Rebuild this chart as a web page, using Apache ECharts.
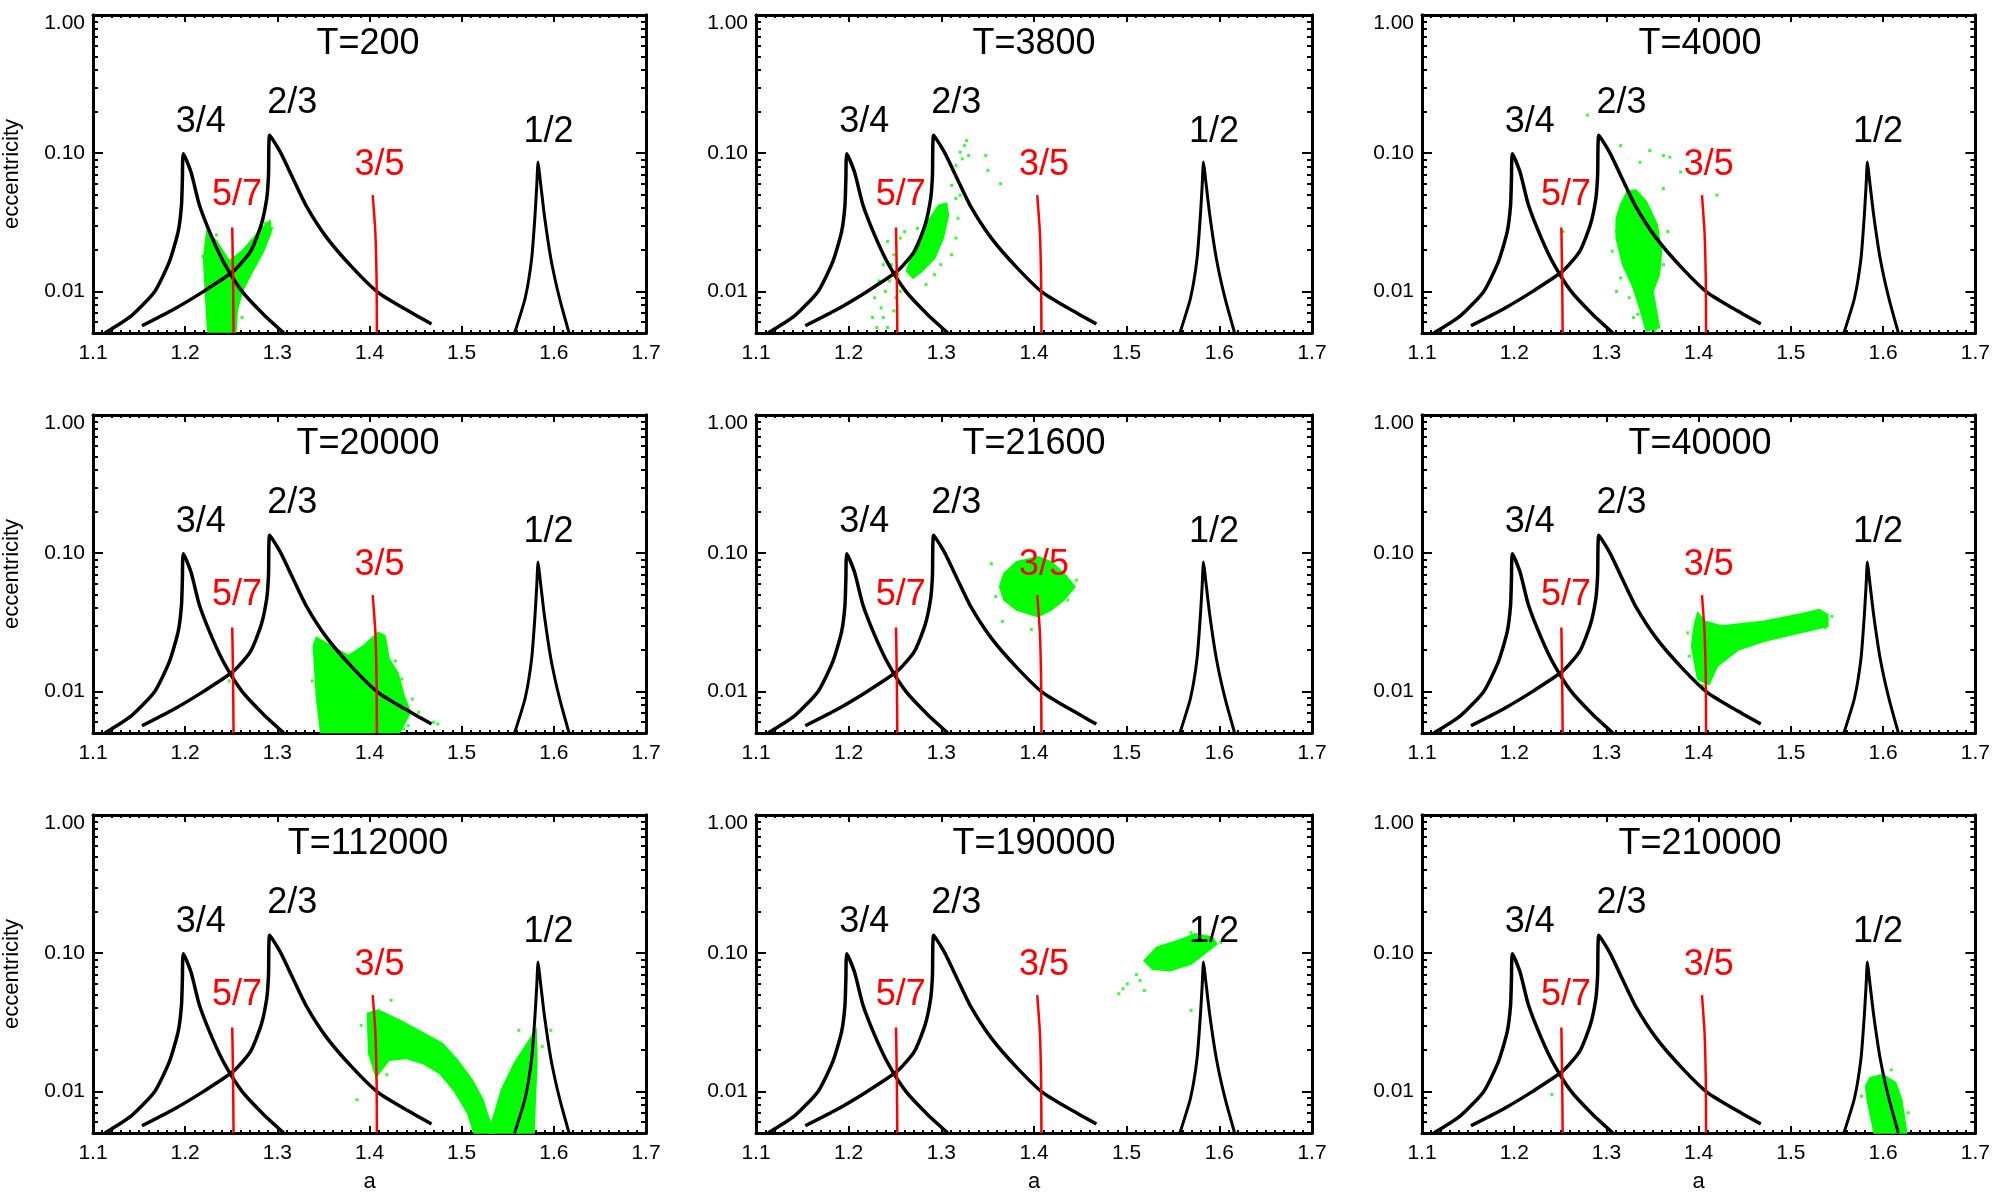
<!DOCTYPE html>
<html>
<head>
<meta charset="UTF-8">
<title>resonance panels</title>
<script src="https://cdn.jsdelivr.net/npm/echarts@6/dist/echarts.min.js"></script>
<style>
    html, body { margin: 0; padding: 0; background: #fff; }
    #chart { width: 1993px; height: 1197px; }
</style>
</head>
<body>
<div id="chart"></div>
<script>
// panel titles, row by row
var times = ['T=200', 'T=3800', 'T=4000', 'T=20000', 'T=21600', 'T=40000', 'T=112000', 'T=190000', 'T=210000'];

// y ticks (log axis)
var yMajor = [0.01, 0.1, 1];
var yMinor = [0.006, 0.007, 0.008, 0.009, 0.02, 0.03, 0.04, 0.05, 0.06, 0.07, 0.08, 0.09,
              0.2, 0.3, 0.4, 0.5, 0.6, 0.7, 0.8, 0.9];

// resonance borders [a, e]
var curve34 = [[1.113, 0.005], [1.1416, 0.00665], [1.167, 0.01], [1.183, 0.0165], [1.1924, 0.0271],
               [1.196, 0.042], [1.197, 0.0654], [1.198, 0.099], [1.2063, 0.073], [1.2155, 0.042],
               [1.2294, 0.0243], [1.2432, 0.0156], [1.2617, 0.01], [1.2848, 0.00684], [1.307, 0.005]];
var curve23 = [[1.1531, 0.00564], [1.1878, 0.00743], [1.22, 0.01], [1.2525, 0.014], [1.271, 0.0195],
               [1.2825, 0.0303], [1.2885, 0.047], [1.2904, 0.069], [1.2917, 0.135], [1.3033, 0.1017],
               [1.3171, 0.0654], [1.331, 0.042], [1.354, 0.0243], [1.3818, 0.0148], [1.4095, 0.0098],
               [1.4419, 0.00723], [1.4673, 0.0058]];
var curve12 = [[1.5574, 0.005], [1.569, 0.009], [1.576, 0.0174], [1.5796, 0.0357], [1.5815, 0.0586],
               [1.5829, 0.0862], [1.5851, 0.065], [1.5897, 0.0357], [1.5967, 0.0174], [1.606, 0.009],
               [1.6165, 0.005]];
var line57 = [[1.2511, 0.029], [1.252, 0.0119], [1.2525, 0.005]];
var line35 = [[1.4035, 0.0497], [1.4063, 0.027], [1.4077, 0.0119], [1.408, 0.005]];

// resonance names and where they sit
var blackNames = ['3/4', '2/3', '1/2'];
var blackPos = [[1.2169, 0.167], [1.3162, 0.23], [1.5943, 0.143]];
var redNames = ['5/7', '3/5'];
var redPos = [[1.2562, 0.0497], [1.4109, 0.0815]];

// particle clouds: dense outline + loose particles
var cloudT200 = [[1.2247, 0.0051], [1.2201, 0.0174], [1.2238, 0.0271], [1.234, 0.023], [1.2478, 0.0165],
                 [1.2617, 0.0195], [1.2802, 0.0271], [1.2917, 0.0323], [1.2931, 0.0271], [1.2848, 0.0195],
                 [1.2709, 0.0132], [1.2617, 0.01], [1.2562, 0.00723], [1.2548, 0.0051]];
var dotsT200 = [[1.2192, 0.0179], [1.2871, 0.0311], [1.294, 0.0286], [1.227, 0.00548], [1.2432, 0.00519],
                [1.2617, 0.00647], [1.2224, 0.01], [1.234, 0.0256]];

var cloudT3800 = [[1.2627, 0.014], [1.2696, 0.0195], [1.2834, 0.0303], [1.2972, 0.042], [1.3055, 0.0433],
                  [1.3074, 0.0357], [1.3018, 0.0243], [1.2926, 0.0174], [1.2788, 0.014], [1.2696, 0.0125]];
var dotsT3800 = [[1.3272, 0.1233], [1.3249, 0.1135], [1.3203, 0.1017], [1.3226, 0.091], [1.3157, 0.0815],
                 [1.3295, 0.0962], [1.3479, 0.0962], [1.3502, 0.0751], [1.364, 0.0602], [1.3133, 0.0751],
                 [1.311, 0.0586], [1.3157, 0.047], [1.3203, 0.0497], [1.2419, 0.023], [1.2488, 0.0184],
                 [1.2373, 0.0156], [1.2465, 0.0156], [1.2327, 0.0119], [1.2396, 0.01], [1.2281, 0.009],
                 [1.235, 0.0076], [1.2258, 0.00647], [1.2304, 0.00548], [1.2419, 0.00548], [1.2511, 0.009],
                 [1.2557, 0.01], [1.2834, 0.0112], [1.2926, 0.0132], [1.2995, 0.0156], [1.311, 0.0184],
                 [1.3157, 0.0243], [1.318, 0.0338], [1.2557, 0.0243], [1.2604, 0.0271], [1.2742, 0.0286],
                 [1.265, 0.0174], [1.2534, 0.0132], [1.2442, 0.0119], [1.2488, 0.00723], [1.2373, 0.00647]];

var cloudT4000 = [[1.3154, 0.042], [1.3224, 0.0525], [1.3317, 0.054], [1.3432, 0.0445], [1.3548, 0.0303],
                  [1.3594, 0.0195], [1.3571, 0.0132], [1.3502, 0.01], [1.3571, 0.00548], [1.3432, 0.00519],
                  [1.3363, 0.0076], [1.3293, 0.0106], [1.3178, 0.0156], [1.3108, 0.0243], [1.3108, 0.0338]];
var dotsT4000 = [[1.2793, 0.1884], [1.3154, 0.1135], [1.3363, 0.0861], [1.3469, 0.1046], [1.3618, 0.0962],
                 [1.3687, 0.0936], [1.3618, 0.0555], [1.3803, 0.0731], [1.4197, 0.0497], [1.3201, 0.0586],
                 [1.3108, 0.0271], [1.3062, 0.0195], [1.3154, 0.0125], [1.3247, 0.009], [1.334, 0.00684],
                 [1.3479, 0.00647], [1.3618, 0.0156], [1.3664, 0.0271], [1.3108, 0.01], [1.3293, 0.00647],
                 [1.2529, 0.0271], [1.3525, 0.00519]];

var cloudT20000 = [[1.3472, 0.00506], [1.3426, 0.0093], [1.3393, 0.0213], [1.3426, 0.0245], [1.3587, 0.0213],
                   [1.3772, 0.0181], [1.3934, 0.0213], [1.4095, 0.0266], [1.4165, 0.0252], [1.4211, 0.0171],
                   [1.4303, 0.0137], [1.4373, 0.0093], [1.4442, 0.00706], [1.4326, 0.00506]];
var dotsT20000 = [[1.4465, 0.0088], [1.4534, 0.00706], [1.4696, 0.00598], [1.4742, 0.00581], [1.4419, 0.00565],
                  [1.435, 0.0123], [1.428, 0.0166], [1.3379, 0.0119], [1.2478, 0.0119], [1.4373, 0.00535]];

var cloudT21600 = [[1.3678, 0.0713], [1.3815, 0.0865], [1.4044, 0.0939], [1.4182, 0.0865], [1.432, 0.0713],
                   [1.4439, 0.0572], [1.432, 0.0459], [1.4182, 0.0389], [1.4044, 0.0349], [1.3815, 0.0389],
                   [1.3678, 0.0459], [1.3632, 0.0572]];
var dotsT21600 = [[1.354, 0.0841], [1.3659, 0.0321], [1.3971, 0.028], [1.4457, 0.0638], [1.4365, 0.0459],
                  [1.3586, 0.0485]];

var cloudT40000 = [[1.399, 0.0368], [1.4064, 0.0321], [1.4248, 0.0296], [1.4708, 0.0321], [1.5076, 0.0358],
                   [1.5306, 0.0389], [1.5398, 0.0358], [1.5398, 0.0296], [1.5076, 0.0265], [1.4708, 0.0231],
                   [1.4432, 0.0201], [1.4202, 0.0153], [1.411, 0.0113], [1.399, 0.0123], [1.3926, 0.0212],
                   [1.3953, 0.0296]];
var dotsT40000 = [[1.388, 0.0265], [1.3898, 0.018], [1.5444, 0.0349], [1.537, 0.0288], [1.4045, 0.011]];

var cloudT112000a = [[1.398, 0.0366], [1.4095, 0.0386], [1.4326, 0.0327], [1.4557, 0.027], [1.4788, 0.0222],
                     [1.495, 0.0169], [1.5112, 0.0121], [1.5227, 0.0087], [1.5343, 0.00502], [1.5135, 0.00502],
                     [1.5066, 0.00699], [1.4927, 0.01], [1.4765, 0.0135], [1.458, 0.016], [1.4396, 0.0174],
                     [1.4211, 0.0169], [1.4072, 0.0128], [1.3994, 0.0188]];
var cloudT112000b = [[1.5297, 0.00502], [1.5435, 0.0103], [1.5574, 0.016], [1.5712, 0.0222], [1.5805, 0.0277],
                     [1.5814, 0.016], [1.5796, 0.0087], [1.5782, 0.00502]];
var dotsT112000 = [[1.3864, 0.0087], [1.4234, 0.0456], [1.562, 0.0277], [1.5967, 0.0277], [1.391, 0.0301],
                   [1.4188, 0.0132], [1.5874, 0.0211]];

var cloudT190000 = [[1.5191, 0.0883], [1.5328, 0.1101], [1.5557, 0.123], [1.5741, 0.1374], [1.5924, 0.13],
                    [1.597, 0.1164], [1.5833, 0.0986], [1.5695, 0.0836], [1.5466, 0.0749], [1.5282, 0.0769]];
var dotsT190000 = [[1.4916, 0.0509], [1.4961, 0.0553], [1.5145, 0.0634], [1.5695, 0.141], [1.5695, 0.0386],
                   [1.5191, 0.0538], [1.5007, 0.06], [1.6016, 0.1196], [1.5833, 0.1164], [1.5105, 0.07]];

var cloudT210000 = [[1.5858, 0.0125], [1.5996, 0.0132], [1.6134, 0.0115], [1.6198, 0.0087], [1.6253, 0.00502],
                    [1.5904, 0.00502], [1.583, 0.0087], [1.5812, 0.0109]];
var dotsT210000 = [[1.6088, 0.0143], [1.2408, 0.0095], [1.6272, 0.007], [1.5766, 0.0092]];

var panelClouds = [[cloudT200], [cloudT3800], [cloudT4000], [cloudT20000], [cloudT21600], [cloudT40000],
                   [cloudT112000a, cloudT112000b], [cloudT190000], [cloudT210000]];
var panelDots = [dotsT200, dotsT3800, dotsT4000, dotsT20000, dotsT21600, dotsT40000,
                 dotsT112000, dotsT190000, dotsT210000];

// layout
var FONT = "'Liberation Sans', Arial, sans-serif";
var GREEN = '#00ff00', RED = '#ff0000';
var colLeft = [90, 756, 1422], rowTop = [15, 415, 815];
var W = 556, H = 318;

function xAxisCfg(g, pos, labels, named) {
    return {
        gridIndex: g, type: 'value', position: pos, min: 1.1, max: 1.7, interval: 0.1,
        axisLine: {show: true, onZero: false, lineStyle: {color: '#000', width: 3}},
        axisTick: {show: true, inside: true, length: 7, lineStyle: {color: '#000', width: 2}},
        minorTick: {show: true, splitNumber: 10, length: 3, lineStyle: {color: '#000', width: 2}},
        axisLabel: {show: labels, margin: 10, fontSize: 21, fontFamily: FONT, color: '#000',
            formatter: function (v) { return v.toFixed(1); }},
        splitLine: {show: false}, minorSplitLine: {show: false},
        name: named ? 'a' : '', nameLocation: 'middle', nameGap: 38,
        nameTextStyle: {fontSize: 22, fontFamily: FONT, color: '#000'}
    };
}

function yAxisCfg(g, pos, ticks, len, labels, named) {
    return {
        gridIndex: g, type: 'log', logBase: 10, min: 0.005, max: 1, position: pos,
        axisLine: {show: true, lineStyle: {color: '#000', width: 3}},
        axisTick: {show: true, inside: true, length: len, customValues: ticks,
            lineStyle: {color: '#000', width: 2}},
        axisLabel: {show: labels, customValues: yMajor, margin: 8, fontSize: 21, fontFamily: FONT, color: '#000',
            formatter: function (v) { return v > 0.5 ? '{t|1.00}' : v.toFixed(2); },
            rich: {t: {fontSize: 21, fontFamily: FONT, color: '#000', padding: [16, 0, 0, 0]}}},
        splitLine: {show: false},
        name: named ? 'eccentricity' : '', nameLocation: 'middle', nameGap: 70, nameRotate: 90,
        nameTextStyle: {fontSize: 22, fontFamily: FONT, color: '#000'}
    };
}

function cloudSeries(pts, xi, yi) {
    return {
        type: 'custom', xAxisIndex: xi, yAxisIndex: yi, data: pts, silent: true, z: 1,
        renderItem: function (params, api) {
            if (params.dataIndex !== 0) return;
            return {
                type: 'polygon',
                shape: {points: pts.map(function (d) { return api.coord(d); })},
                style: {fill: GREEN, stroke: GREEN, lineWidth: 2}
            };
        }
    };
}

function lineSeries(pts, xi, yi, color, width) {
    return {
        type: 'line', xAxisIndex: xi, yAxisIndex: yi, data: pts, showSymbol: false, symbol: 'none',
        smooth: 0.2, silent: true, z: 3, lineStyle: {color: color, width: width}
    };
}

function labelSeries(names, pos, xi, yi, color) {
    return {
        type: 'scatter', xAxisIndex: xi, yAxisIndex: yi, silent: true, z: 4,
        symbolSize: 0, itemStyle: {color: color, opacity: 1},
        data: names.map(function (n, k) { return {name: n, value: pos[k]}; }),
        label: {show: true, position: 'inside', formatter: '{b}', color: color, opacity: 1,
            textBorderWidth: 0, fontSize: 36, fontFamily: FONT}
    };
}

var grids = [], xAxes = [], yAxes = [], series = [], graphics = [];
for (var p = 0; p < 9; p++) {
    var r = Math.floor(p / 3), c = p % 3;
    grids.push({left: colLeft[c], top: rowTop[r], width: W, height: H});
    xAxes.push(xAxisCfg(p, 'bottom', true, r === 2));
    xAxes.push(xAxisCfg(p, 'top', false, false));
    yAxes.push(yAxisCfg(p, 'left', yMajor, 10, true, c === 0));
    yAxes.push(yAxisCfg(p, 'left', yMinor, 5, false, false));
    yAxes.push(yAxisCfg(p, 'right', yMajor, 10, false, false));
    yAxes.push(yAxisCfg(p, 'right', yMinor, 5, false, false));
    var xi = 2 * p, yi = 4 * p;

    panelClouds[p].forEach(function (cl) { series.push(cloudSeries(cl, xi, yi)); });
    series.push({
        type: 'scatter', xAxisIndex: xi, yAxisIndex: yi, data: panelDots[p], silent: true, z: 1,
        symbol: 'rect', symbolSize: 3, itemStyle: {color: GREEN}
    });
    series.push(lineSeries(curve34, xi, yi, '#000', 3.5));
    series.push(lineSeries(curve23, xi, yi, '#000', 3.5));
    series.push(lineSeries(curve12, xi, yi, '#000', 3));
    series.push(lineSeries(line57, xi, yi, RED, 2.5));
    series.push(lineSeries(line35, xi, yi, RED, 2.5));
    series.push(labelSeries(blackNames, blackPos, xi, yi, '#000'));
    series.push(labelSeries(redNames, redPos, xi, yi, RED));

    graphics.push({
        type: 'text', x: colLeft[c] + W / 2, y: rowTop[r] + 29, silent: true,
        style: {text: times[p], fontSize: 36, fontFamily: FONT, fill: '#000',
            align: 'center', verticalAlign: 'middle'}
    });
}

var chart = echarts.init(document.getElementById('chart'));
chart.setOption({
    animation: false,
    backgroundColor: '#fff',
    grid: grids,
    xAxis: xAxes,
    yAxis: yAxes,
    series: series,
    graphic: graphics
});
</script>
</body>
</html>
